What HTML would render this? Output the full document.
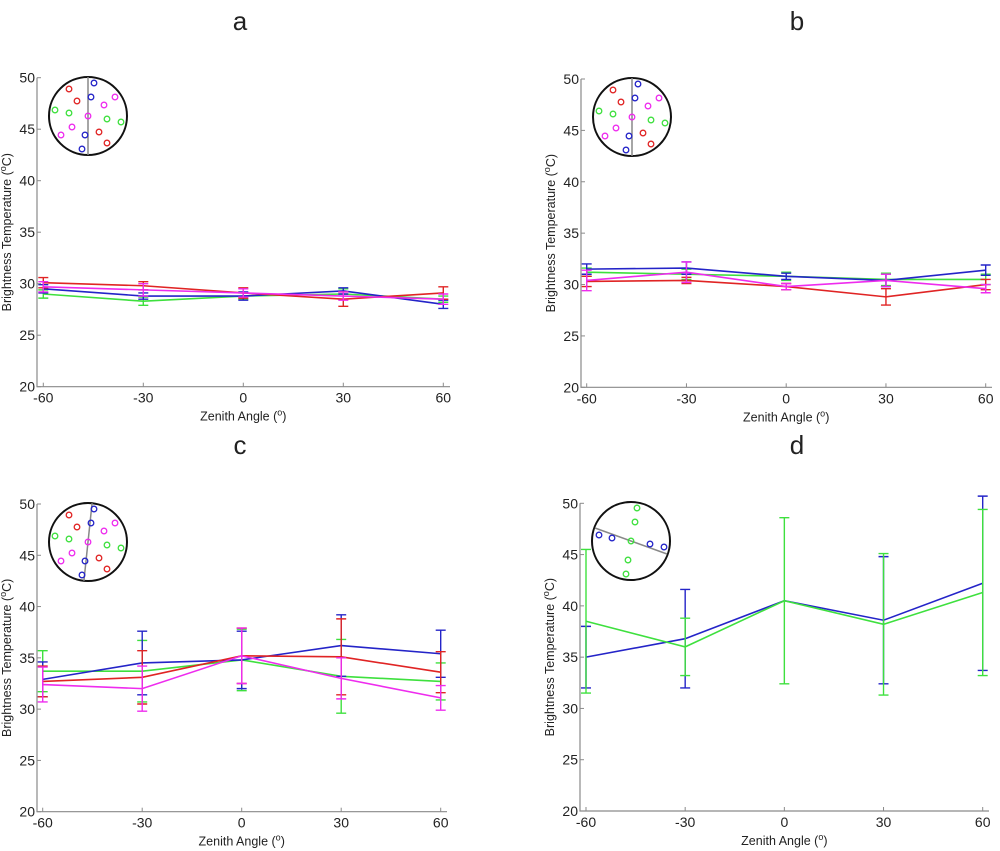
<!DOCTYPE html>
<html><head><meta charset="utf-8"><style>
body{margin:0;background:#fff;width:1000px;height:851px;overflow:hidden}
svg{display:block}
text{font-family:"Liberation Sans",Arial,sans-serif;fill:#222}
</style></head><body>
<svg id="fig" width="1000" height="851"></svg>
<script>
const xTicks=[-60,-30,0,30,60];
const yTicks=[20,25,30,35,40,45,50];
const panelLetters=['a','b','c','d'];
// panel a
const aBlue=[29.5,28.8,28.8,29.3,28.0], aBlueErr=[0.4,0.3,0.4,0.3,0.4];
const aGreen=[29.0,28.3,28.8,29.0,28.5], aGreenErr=[0.4,0.4,0.3,0.5,0.3];
const aRed=[30.1,29.8,29.1,28.5,29.1], aRedErr=[0.5,0.4,0.5,0.7,0.6];
const aMag=[29.7,29.4,29.1,28.8,28.5], aMagErr=[0.5,0.6,0.4,0.4,0.5];
// panel b
const bBlue=[31.5,31.6,30.8,30.4,31.4], bBlueErr=[0.5,0.6,0.3,0.6,0.5];
const bGreen=[31.2,31.0,30.8,30.5,30.5], bGreenErr=[0.4,0.5,0.4,0.6,0.5];
const bRed=[30.3,30.4,29.8,28.8,30.0], bRedErr=[0.5,0.3,0.3,0.8,0.5];
const bMag=[30.4,31.2,29.8,30.4,29.6], bMagErr=[1.0,1.0,0.3,0.6,0.4];
// panel c
const cBlue=[32.9,34.5,34.8,36.2,35.4], cBlueErr=[1.7,3.1,2.8,3.0,2.3];
const cGreen=[33.7,33.7,34.8,33.2,32.7], cGreenErr=[2.0,3.0,3.0,3.6,1.8];
const cRed=[32.7,33.1,35.2,35.1,33.6], cRedErr=[1.5,2.6,2.7,3.7,2.0];
const cMag=[32.4,32.0,35.2,33.0,31.1], cMagErr=[1.7,2.2,2.7,2.0,1.2];
// panel d
const dBlue=[35.0,36.8,40.5,38.6,42.2], dBlueErr=[3.0,4.8,0,6.2,8.5];
const dGreen=[38.5,36.0,40.5,38.2,41.3], dGreenErr=[7.0,2.8,8.1,6.9,8.1];

const COL={blue:'#2424c8',green:'#3ee03e',red:'#e02424',mag:'#ee2cee'};
const panels=[
 {x0:37,x1:450,xm60:43.3,xp60:443.3,y20:386.7,y50:77.7,tx:240,ty:30,cx:88,cy:116,
  series:[[aGreen,aGreenErr,'green'],[aBlue,aBlueErr,'blue'],[aRed,aRedErr,'red'],[aMag,aMagErr,'mag']],inset:'std',tilt:0},
 {x0:581,x1:992,xm60:586.7,xp60:985.7,y20:387.3,y50:79,tx:797,ty:30,cx:632,cy:117,
  series:[[bGreen,bGreenErr,'green'],[bBlue,bBlueErr,'blue'],[bRed,bRedErr,'red'],[bMag,bMagErr,'mag']],inset:'std',tilt:0},
 {x0:37,x1:447,xm60:42.7,xp60:440.7,y20:811.7,y50:504,tx:240,ty:454,cx:88,cy:542,
  series:[[cGreen,cGreenErr,'green'],[cBlue,cBlueErr,'blue'],[cRed,cRedErr,'red'],[cMag,cMagErr,'mag']],inset:'std',tilt:6},
 {x0:580,x1:989,xm60:586,xp60:982.7,y20:811,y50:503.3,tx:797,ty:454,cx:631,cy:541,
  series:[[dBlue,dBlueErr,'blue'],[dGreen,dGreenErr,'green']],inset:'d',tilt:0}
];
const NS='http://www.w3.org/2000/svg';
const fig=document.getElementById('fig');
function mk(tag,attrs,parent){const e=document.createElementNS(NS,tag);for(const k in attrs)e.setAttribute(k,attrs[k]);(parent||fig).appendChild(e);return e;}
const stdDots=[['red',-19,-27],['red',-11,-15],['red',11,16],['red',19,27],
 ['blue',6,-33],['blue',3,-19],['blue',-3,19],['blue',-6,33],
 ['mag',27,-19],['mag',16,-11],['mag',0,0],['mag',-16,11],['mag',-27,19],
 ['green',-33,-6],['green',-19,-3],['green',19,3],['green',33,6]];
const dDots=[['blue',-32,-6],['blue',-19,-3],['blue',19,3],['blue',33,6],
 ['green',6,-33],['green',4,-19],['green',0,0],['green',-3,19],['green',-5,33]];

panels.forEach((p,pi)=>{
 const g=mk('g',{});
 
 
 const X=v=>p.xm60+(v+60)*(p.xp60-p.xm60)/120;
 const Y=v=>p.y20+(v-20)*(p.y50-p.y20)/30;
 const t=mk('text',{x:p.tx,y:p.ty,'font-size':26,'text-anchor':'middle'},g);t.textContent=panelLetters[pi];
 
 
 const ax=mk('path',{d:`M${p.x0},${p.y50}V${p.y20}H${p.x1}`,stroke:'#8a8a8a','stroke-width':1.2,fill:'none'},g);
 
 
 yTicks.forEach(v=>{
  mk('line',{x1:p.x0,x2:p.x0+4,y1:Y(v),y2:Y(v),stroke:'#8a8a8a'},g);
  const tl=mk('text',{x:p.x0-2,y:Y(v)+5,'font-size':14,'text-anchor':'end'},g);tl.textContent=v;
  
  
 });
 xTicks.forEach(v=>{
  mk('line',{x1:X(v),x2:X(v),y1:p.y20,y2:p.y20-4,stroke:'#8a8a8a'},g);
  const tl=mk('text',{x:X(v),y:p.y20+16,'font-size':14,'text-anchor':'middle'},g);tl.textContent=v;
  
  
 });
 const xl=mk('text',{x:(p.xm60+p.xp60)/2,y:p.y20+34,'font-size':12.5,'text-anchor':'middle'},g);
 xl.innerHTML='Zenith Angle (<tspan dy="-5" font-size="9">o</tspan><tspan dy="5">)</tspan>';
 
 
 const ym=(p.y20+p.y50)/2;
 const yl=mk('text',{x:0,y:0,'font-size':12.5,'text-anchor':'middle',transform:`translate(${p.x0-26},${ym}) rotate(-90)`},g);
 yl.innerHTML='Brightness Temperature (<tspan dy="-5" font-size="9">o</tspan><tspan dy="5">C)</tspan>';
 
 
 p.series.forEach(([vals,errs,c])=>{
  const s=mk('g',{},g);
  
  
  mk('polyline',{points:vals.map((v,i)=>X(xTicks[i])+','+Y(v)).join(' '),fill:'none',stroke:COL[c],'stroke-width':1.6},s);
  vals.forEach((v,i)=>{
   const e=errs[i];if(!e)return;const x=X(xTicks[i]);
   const eb=mk('path',{d:`M${x},${Y(v-e)}V${Y(v+e)}M${x-5},${Y(v-e)}H${x+5}M${x-5},${Y(v+e)}H${x+5}`,stroke:COL[c],'stroke-width':1.4,fill:'none'},s);
   
   
  });
 });
 const ins=mk('g',{},g);
 
 
 mk('circle',{cx:p.cx,cy:p.cy,r:39,fill:'#fff',stroke:'#111','stroke-width':2},ins);
 if(p.inset==='d'){
  mk('line',{x1:p.cx-36,y1:p.cy-13,x2:p.cx+36,y2:p.cy+13,stroke:'#888','stroke-width':1.5},ins);
  dDots.forEach(([c,dx,dy])=>mk('circle',{cx:p.cx+dx,cy:p.cy+dy,r:2.8,fill:'none',stroke:COL[c],'stroke-width':1.3},ins));
 }else{
  const a=p.tilt*Math.PI/180;
  mk('line',{x1:p.cx+39*Math.sin(a),y1:p.cy-39*Math.cos(a),x2:p.cx-39*Math.sin(a),y2:p.cy+39*Math.cos(a),stroke:'#888','stroke-width':1.5},ins);
  stdDots.forEach(([c,dx,dy])=>mk('circle',{cx:p.cx+dx,cy:p.cy+dy,r:2.8,fill:'none',stroke:COL[c],'stroke-width':1.3},ins));
 }
});
</script>
</body></html>
